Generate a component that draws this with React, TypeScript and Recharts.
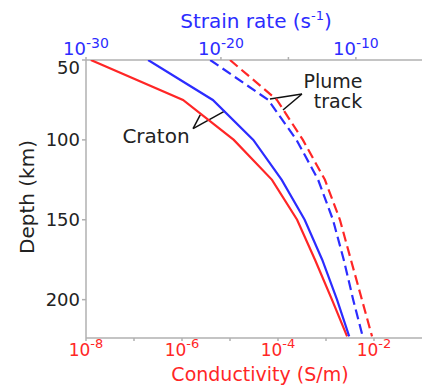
import { ScatterChart, Scatter, XAxis, YAxis, ReferenceLine } from 'recharts';

const RED = '#ff2626';
const BLUE = '#2c2cff';
const FONT = '"DejaVu Sans", Verdana, sans-serif';

// depth (km) of each sampled point
const depths = [50, 75, 100, 125, 150, 175, 200, 223];
// conductivity (S/m)
const cratonConductivity = [1.26e-8, 1.05e-6, 1.2e-5, 7.5e-5, 2.5e-4, 5.9e-4, 1.33e-3, 2.75e-3];
const plumeConductivity = [1.0e-5, 9.5e-5, 3.3e-4, 9.5e-4, 1.95e-3, 3.3e-3, 5.6e-3, 9.1e-3];
// strain rate (1/s)
const cratonStrain = [4e-26, 2.5e-21, 2.5e-18, 3.2e-16, 1.6e-14, 3.2e-13, 4e-12, 3.2e-11];
const plumeStrain = [1.6e-21, 3.2e-17, 4e-15, 1.6e-13, 2e-12, 1.26e-11, 6.3e-11, 3.2e-10];

const depthTicks = [50, 100, 150, 200];
const condTicks = [1e-8, 1e-7, 1e-6, 1e-5, 1e-4, 1e-3, 1e-2];
const strainTicks = [1e-30, 1e-20, 1e-15, 1e-10];

const condRows = (vals: number[]) => vals.map((c, i) => ({ c, depth: depths[i] }));
const strainRows = (vals: number[]) => vals.map((s, i) => ({ s, depth: depths[i] }));

const noDot = () => <g />;

function PowerTick(props: any) {
  const { x, y, payload, color, size, sup, step, above } = props;
  const e = Math.round(Math.log10(payload.value));
  if (e % step !== 0) return <g />;
  return (
    <text x={x} y={above ? y : y + 13} textAnchor="middle" fill={color} fontFamily={FONT} fontSize={size}>
      <tspan>10</tspan>
      <tspan dy={above ? -7 : -8} fontSize={sup}>{`-${Math.abs(e)}`}</tspan>
    </text>
  );
}

function DepthTick(props: any) {
  const { x, y, payload } = props;
  return (
    <text x={x} y={payload.value === 50 ? y + 8 : y} dy={6} textAnchor="end" fill="#222" fontFamily={FONT} fontSize={18}>
      {payload.value}
    </text>
  );
}

export default function App() {
  const axisStroke = '#b0b0b0';
  return (
    <div style={{ position: 'fixed', left: 0, top: 0, width: 423, height: 388, background: '#fff' }}>
      <ScatterChart width={423} height={388} margin={{ top: 30, right: 1, bottom: 20, left: 46 }}>
        <XAxis
          xAxisId="bottom"
          dataKey="c"
          type="number"
          scale="log"
          domain={[1e-8, 1e-1]}
          allowDataOverflow
          ticks={condTicks}
          interval={0}
          height={30}
          tickSize={3}
          tickMargin={2}
          stroke={axisStroke}
          strokeWidth={1.5}
          tick={<PowerTick color={RED} size={17} sup={13} step={2} />}
        />
        <XAxis
          xAxisId="top"
          dataKey="s"
          orientation="top"
          type="number"
          scale="log"
          domain={[1e-30, Math.pow(10, -5.1)]}
          allowDataOverflow
          ticks={strainTicks}
          interval={0}
          height={30}
          tickSize={3}
          tickMargin={2}
          stroke={axisStroke}
          strokeWidth={1.5}
          tick={<PowerTick color={BLUE} size={18} sup={14} step={10} above />}
        />
        <YAxis
          yAxisId="left"
          dataKey="depth"
          type="number"
          reversed
          domain={[50, 224]}
          allowDataOverflow
          ticks={depthTicks}
          interval={0}
          width={40}
          tickSize={4}
          tickMargin={2}
          stroke={axisStroke}
          strokeWidth={1.5}
          tick={<DepthTick />}
        />
        <YAxis
          yAxisId="right"
          orientation="right"
          dataKey="depth"
          type="number"
          reversed
          domain={[50, 224]}
          width={0}
          tick={false}
          tickLine={false}
          stroke={axisStroke}
          strokeWidth={1.5}
        />

        <Scatter
          xAxisId="bottom"
          yAxisId="left"
          data={condRows(cratonConductivity)}
          line={{ stroke: RED, strokeWidth: 2.2 }}
          shape={noDot}
          fill={RED}
          isAnimationActive={false}
        />
        <Scatter
          xAxisId="top"
          yAxisId="left"
          data={strainRows(cratonStrain)}
          line={{ stroke: BLUE, strokeWidth: 2.2 }}
          shape={noDot}
          fill={BLUE}
          isAnimationActive={false}
        />
        <Scatter
          xAxisId="bottom"
          yAxisId="left"
          data={condRows(plumeConductivity)}
          line={{ stroke: RED, strokeWidth: 2.2, strokeDasharray: '10 5' }}
          shape={noDot}
          fill={RED}
          isAnimationActive={false}
        />
        <Scatter
          xAxisId="top"
          yAxisId="left"
          data={strainRows(plumeStrain)}
          line={{ stroke: BLUE, strokeWidth: 2.2, strokeDasharray: '10 5' }}
          shape={noDot}
          fill={BLUE}
          isAnimationActive={false}
        />

        {/* pointer lines for the annotations */}
        <ReferenceLine xAxisId="bottom" yAxisId="left" segment={[{ x: 1.7e-6, y: 93 }, { x: 2.4e-6, y: 84.4 }]} stroke="#111" strokeWidth={1.5} />
        <ReferenceLine xAxisId="bottom" yAxisId="left" segment={[{ x: 1.7e-6, y: 93 }, { x: 7.9e-6, y: 81.9 }]} stroke="#111" strokeWidth={1.5} />
        <ReferenceLine xAxisId="bottom" yAxisId="left" segment={[{ x: 3.16e-4, y: 71.3 }, { x: 6.8e-5, y: 74.4 }]} stroke="#111" strokeWidth={1.5} />
        <ReferenceLine xAxisId="bottom" yAxisId="left" segment={[{ x: 3.16e-4, y: 71.3 }, { x: 1.27e-4, y: 81.3 }]} stroke="#111" strokeWidth={1.5} />
      </ScatterChart>

      <svg width={423} height={388} style={{ position: 'absolute', left: 0, top: 0, pointerEvents: 'none' }} fontFamily={FONT}>
        <text x={256} y={28} textAnchor="middle" fill={BLUE} fontSize={20}>
          Strain rate (s<tspan dy={-8} fontSize={13}>-1</tspan><tspan dy={8}>)</tspan>
        </text>
        <text x={260} y={381} textAnchor="middle" fill={RED} fontSize={19}>Conductivity (S/m)</text>
        <text x={34} y={197} textAnchor="middle" fill="#222" fontSize={20} transform="rotate(-90 34 197)">Depth (km)</text>
        <text x={156} y={143} textAnchor="middle" fill="#222" fontSize={20}>Craton</text>
        <text x={333} y={88} textAnchor="middle" fill="#222" fontSize={19}>Plume</text>
        <text x={338} y={108} textAnchor="middle" fill="#222" fontSize={19}>track</text>
      </svg>
    </div>
  );
}
